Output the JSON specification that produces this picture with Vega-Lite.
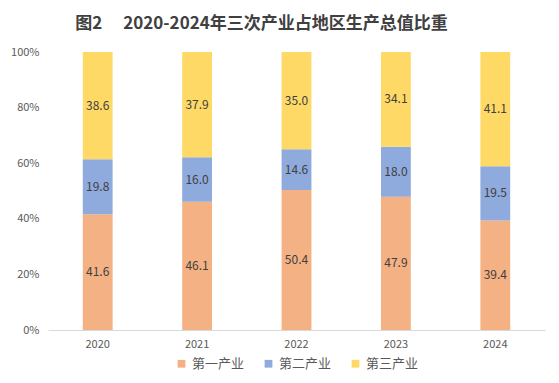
{
  "$schema": "https://vega.github.io/schema/vega-lite/v6.json",
  "width": 497,
  "height": 278,
  "autosize": {"type": "none"},
  "padding": {"left": 48, "top": 52, "right": 14, "bottom": 53},
  "background": "white",
  "title": {
    "text": "图2\u3000 2020-2024年三次产业占地区生产总值比重",
    "font": "Noto Sans CJK SC",
    "fontSize": 17,
    "fontWeight": "bold",
    "color": "#404040",
    "anchor": "middle",
    "dx": -35,
    "offset": 13
  },
  "config": {
    "view": {"stroke": null},
    "font": "Noto Sans CJK SC"
  },
  "data": {
    "values": [
      {"year": "2020", "industry": "第一产业", "idx": 1, "value": 41.6},
      {"year": "2020", "industry": "第二产业", "idx": 2, "value": 19.8},
      {"year": "2020", "industry": "第三产业", "idx": 3, "value": 38.6},
      {"year": "2021", "industry": "第一产业", "idx": 1, "value": 46.1},
      {"year": "2021", "industry": "第二产业", "idx": 2, "value": 16.0},
      {"year": "2021", "industry": "第三产业", "idx": 3, "value": 37.9},
      {"year": "2022", "industry": "第一产业", "idx": 1, "value": 50.4},
      {"year": "2022", "industry": "第二产业", "idx": 2, "value": 14.6},
      {"year": "2022", "industry": "第三产业", "idx": 3, "value": 35.0},
      {"year": "2023", "industry": "第一产业", "idx": 1, "value": 47.9},
      {"year": "2023", "industry": "第二产业", "idx": 2, "value": 18.0},
      {"year": "2023", "industry": "第三产业", "idx": 3, "value": 34.1},
      {"year": "2024", "industry": "第一产业", "idx": 1, "value": 39.4},
      {"year": "2024", "industry": "第二产业", "idx": 2, "value": 19.5},
      {"year": "2024", "industry": "第三产业", "idx": 3, "value": 41.1}
    ]
  },
  "transform": [
    {
      "stack": "value",
      "groupby": ["year"],
      "sort": [{"field": "idx", "order": "ascending"}],
      "offset": "normalize",
      "as": ["v0", "v1"]
    },
    {"calculate": "(datum.v0 + datum.v1) / 2", "as": "vmid"}
  ],
  "encoding": {
    "x": {
      "field": "year",
      "type": "nominal",
      "scale": {"paddingInner": 0.7, "paddingOuter": 0.35},
      "axis": {
        "title": null,
        "labelAngle": 0,
        "ticks": false,
        "domainColor": "#D9D9D9",
        "labelColor": "#595959",
        "labelFontSize": 11,
        "labelPadding": 8
      }
    }
  },
  "layer": [
    {
      "mark": {"type": "bar"},
      "encoding": {
        "y": {
          "field": "v0",
          "type": "quantitative",
          "scale": {"domain": [0, 1]},
          "axis": {
            "title": null,
            "format": ".0%",
            "values": [0, 0.2, 0.4, 0.6, 0.8, 1],
            "grid": false,
            "domain": false,
            "ticks": false,
            "labelColor": "#595959",
            "labelFontSize": 11,
            "labelPadding": 9
          }
        },
        "y2": {"field": "v1"},
        "color": {
          "field": "industry",
          "type": "nominal",
          "scale": {
            "domain": ["第一产业", "第二产业", "第三产业"],
            "range": ["#F4B183", "#8FAADC", "#FFD966"]
          },
          "legend": {
            "title": null,
            "orient": "none",
            "legendX": 127,
            "legendY": 305,
            "direction": "horizontal",
            "symbolType": "square",
            "symbolSize": 60,
            "symbolStrokeWidth": 0,
            "labelFontSize": 13,
            "labelColor": "#595959",
            "labelOffset": 4,
            "columnPadding": 17
          }
        }
      }
    },
    {
      "mark": {"type": "text", "fontSize": 12, "color": "#404040"},
      "encoding": {
        "y": {"field": "vmid", "type": "quantitative"},
        "text": {"field": "value", "type": "quantitative", "format": ".1f"}
      }
    }
  ]
}
